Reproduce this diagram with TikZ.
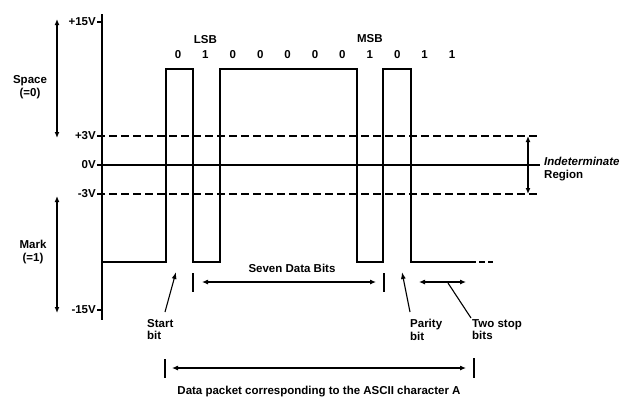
\documentclass[tikz,border=0pt]{standalone}
\usepackage{fontspec}
\setmainfont{Liberation Sans}
\usetikzlibrary{arrows.meta}

\tikzset{
  lbl/.style={font=\fontsize{11.5}{12.5}\selectfont\bfseries, inner sep=1pt},
  wave/.style={line width=1.6pt, line join=miter},
  level/.style={line width=1.3pt},
  dimarrow/.style={line width=1.1pt, {Latex[length=6pt,width=5pt]}-{Latex[length=6pt,width=5pt]}},
  ptr/.style={line width=1.1pt, -{Latex[length=7pt,width=5pt]}},
  tick/.style={line width=1.3pt}
}

\begin{document}
\begin{tikzpicture}[x=1pt,y=-1pt]

\useasboundingbox (0,0) rectangle (622,402);

%% voltage axis and levels
\draw [level] (102,14) -- (102,320);
\node [lbl, anchor=east] (v15)  at (97,22)  {+15V};
\node [lbl, anchor=east] (v3)   at (97,136) {+3V};
\node [lbl, anchor=east] (v0)   at (97,165) {0V};
\node [lbl, anchor=east] (vm3)  at (97,194) {-3V};
\node [lbl, anchor=east] (vm15) at (97,310) {-15V};
\draw [tick] (v15.east) -- (102,22);
\draw [tick] (vm15.east) -- (102,310);
\draw [level, dashed, dash pattern=on 8pt off 4pt] (v3.east) -- (540,136);
\draw [level] (v0.east) -- (540,165);
\draw [level, dashed, dash pattern=on 8pt off 4pt] (vm3.east) -- (540,194);

%% Space / Mark ranges
\coordinate (spTop) at (57,19);
\coordinate (spBot) at (57,138);
\coordinate (mkTop) at (57,196);
\coordinate (mkBot) at (57,313);
\draw [dimarrow, line width=1.5pt] (spTop) -- (spBot);
\draw [dimarrow, line width=1.5pt] (mkTop) -- (mkBot);
\node [lbl, align=center] (space) at (30,87) {Space\\(=0)};
\node [lbl, align=center] (mark) at (33,252) {Mark\\(=1)};

%% Indeterminate region
\coordinate (indTop) at (528,136);
\coordinate (indBot) at (528,194);
\draw [dimarrow, line width=1.5pt] (indTop) -- (indBot);
\node [lbl, align=left, anchor=west] (ind) at (543,169) {\textit{Indeterminate}\\Region};

%% waveform for character A
\draw [wave] (102,262) -- (166,262) -- (166,69) -- (193,69) -- (193,262)
  -- (220,262) -- (220,69) -- (357,69) -- (357,262) -- (383,262)
  -- (383,69) -- (411,69) -- (411,262) -- (470,262);
\draw [wave, dash pattern=on 6pt off 3pt] (470,262) -- (493,262);

%% bit values
\foreach \b [count=\i from 0] in {0,1,0,0,0,0,0,1,0,1,1}
  \node [lbl] (bit\i) at (178+27.4*\i,55) {\b};
\node [lbl] (lsb) at (bit1 |- 0,40) {LSB};
\node [lbl] (msb) at (bit7 |- 0,39) {MSB};

%% seven data bits
\coordinate (sdL) at (202,282);
\coordinate (sdR) at (376,282);
\draw [tick] (193,273) -- (193,292);
\draw [tick] (384,273) -- (384,292);
\draw [dimarrow] (sdL) -- (sdR);
\node [lbl] (seven) at (292,268) {Seven Data Bits};

%% start and parity bits
\node [lbl, align=left, anchor=north west] (start) at (146,318) {Start\\bit};
\node [lbl, align=left, anchor=north west] (parity) at (409,318) {Parity\\bit};
\draw [ptr] (start.north west) ++(19,-6) coordinate (stFoot) -- (176,272);
\draw [ptr] (parity.north west) ++(1,-6) coordinate (paFoot) -- (402,272);

%% two stop bits
\coordinate (stopL) at (419,282);
\coordinate (stopR) at (466,282);
\draw [dimarrow] (stopL) -- (stopR);
\node [lbl, align=left, anchor=north west] (stop) at (471,318) {Two stop\\bits};
\draw [line width=1.1pt] (448,283) -- (stop.north west);

%% data packet
\coordinate (pkL) at (172,368);
\coordinate (pkR) at (466,368);
\draw [tick] (165,359) -- (165,378);
\draw [tick] (474,358) -- (474,378);
\draw [dimarrow] (pkL) -- (pkR);
\node [lbl] (packet) at (319,392) {Data packet corresponding to the ASCII character A};

\end{tikzpicture}
\end{document}
